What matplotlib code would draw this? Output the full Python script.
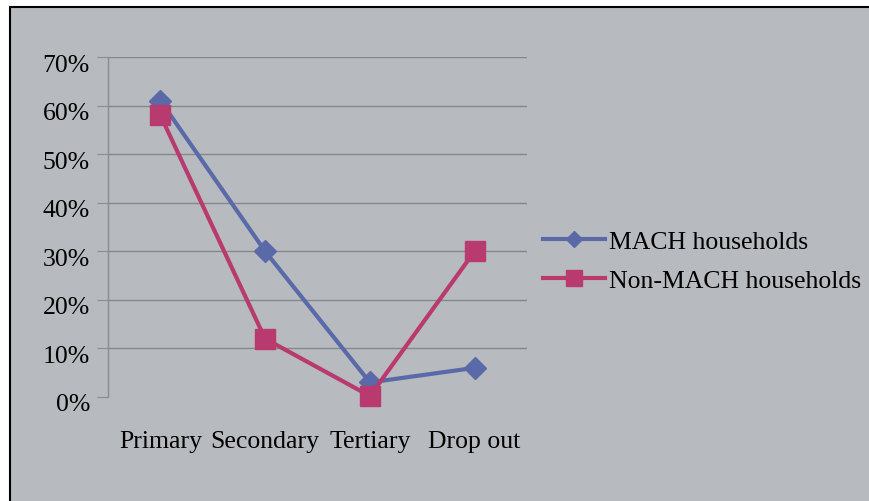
import matplotlib
matplotlib.use("Agg")
import matplotlib.pyplot as plt
import matplotlib.transforms as mtransforms
from matplotlib.patches import Rectangle

categories = ["Primary", "Secondary", "Tertiary", "Drop out"]
mach = [61, 30, 3, 6]
non_mach = [58, 12, 0.2, 30]
series_names = ["MACH households", "Non-MACH households"]

bg = "#b7bbbf"
blue = "#5a6aa8"
pink = "#b83a6e"

plt.rcParams["font.family"] = ["Liberation Serif", "DejaVu Serif"]

fig = plt.figure(figsize=(8.7, 5.02), dpi=100)
fig.patch.set_facecolor("white")
# chart area frame (cut off at right and bottom like the reference)
fig.patches.append(Rectangle((10 / 870, -0.05), 1.0, 1 - 8 / 502 + 0.05,
                             transform=fig.transFigure, facecolor=bg,
                             edgecolor="black", linewidth=1.5, zorder=-1))

ax = fig.add_axes([108 / 870, 1 - 398 / 502, 419 / 870, 340 / 502])
ax.set_facecolor("none")

x = range(len(categories))
ax.plot(x, mach, color=blue, lw=3, marker="D", markersize=11,
        label=series_names[0], zorder=3, clip_on=False)
ax.plot(x, non_mach, color=pink, lw=3, marker="s", markersize=14.5,
        label=series_names[1], zorder=4, clip_on=False)

ax.set_xlim(-0.5, 3.5)
ax.set_ylim(0, 70)
ax.set_yticks(range(0, 71, 10))
ax.set_yticklabels([f"{v}%" for v in range(0, 71, 10)])
ax.set_xticks(list(x))
ax.set_xticklabels(categories)

for s in ["top", "right", "bottom"]:
    ax.spines[s].set_visible(False)
ax.spines["left"].set_color("#8a8c8e")
ax.spines["left"].set_linewidth(1)

ax.grid(axis="y", color="#85888a", linewidth=1)
ax.yaxis.get_gridlines()[0].set_visible(False)
ax.set_axisbelow(True)
ax.tick_params(axis="y", length=8, color="#8a8c8e", labelsize=18.5, pad=5)
ax.tick_params(axis="x", length=0, labelsize=18.5, pad=24)

# y labels sit a little below their gridlines in the original
shift = mtransforms.ScaledTranslation(0, -5 / 100, fig.dpi_scale_trans)
for lbl in ax.get_yticklabels():
    lbl.set_transform(lbl.get_transform() + shift)

fig.legend(loc="center left", bbox_to_anchor=(520 / 870, 1 - 262 / 502),
           frameon=False, fontsize=18.5, handlelength=2.4, handletextpad=0.15,
           labelspacing=0.65, markerscale=0.75)

fig.savefig("out.png", dpi=100, facecolor=fig.get_facecolor())
